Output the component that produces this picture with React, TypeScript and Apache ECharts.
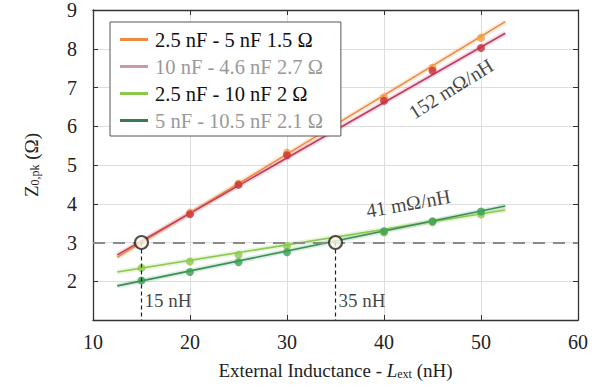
import React, { useEffect, useRef } from "react";
import * as echarts from "echarts";

const xTicks = [10, 20, 30, 40, 50, 60];
const seriesNames = [
  "2.5 nF - 5 nF 1.5 Ω",
  "10 nF - 4.6 nF 2.7 Ω",
  "2.5 nF - 10 nF 2 Ω",
  "5 nF - 10.5 nF 2.1 Ω",
];
const lineColors = ["#ee8a3c", "#c23c62", "#8cc84b", "#3a8f55"];
const pointColors = ["#f29a3e", "#c8303c", "#8cc84b", "#3a9f55"];
const legendTextColors = ["#111", "#999", "#111", "#999"];
const legendIconColors = ["#ee8a3c", "#c99aa3", "#8cc84b", "#3a7a50"];

const xOrange = [20, 25, 30, 40, 45, 50];
const yOrange = [3.77, 4.52, 5.32, 6.74, 7.51, 8.28];
const xRed = [20, 25, 30, 40, 45, 50];
const yRed = [3.73, 4.49, 5.25, 6.66, 7.43, 8.02];
const xLight = [15, 20, 25, 30, 40, 45, 50];
const yLight = [2.34, 2.51, 2.68, 2.91, 3.26, 3.52, 3.72];
const xDark = [15, 20, 25, 30, 40, 45, 50];
const yDark = [2.02, 2.24, 2.49, 2.75, 3.29, 3.55, 3.8];

const fitX = [12.5, 52.5];
const fitOrange = [2.62, 8.7];
const fitRed = [2.68, 8.4];
const fitLight = [2.24, 3.84];
const fitDark = [1.88, 3.94];

const refLevel = 3;
const refPointsX = [15, 35];
const refLabels = ["15 nH", "35 nH"];

const zip = (xs: number[], ys: number[]) => xs.map((x, i) => [x, ys[i]]);

const FONT = "'Liberation Serif', 'Times New Roman', 'DejaVu Serif', serif";

export default function App() {
  const ref = useRef<HTMLDivElement>(null);
  useEffect(() => {
    const chart = echarts.init(ref.current!, null, { renderer: "svg" });
    const pts = [
      zip(xOrange, yOrange),
      zip(xRed, yRed),
      zip(xLight, yLight),
      zip(xDark, yDark),
    ];
    const fits = [fitOrange, fitRed, fitLight, fitDark].map((f) => zip(fitX, f));
    const series: any[] = [];
    fits.forEach((f, i) => {
      series.push({
        type: "line",
        data: f,
        showSymbol: false,
        silent: true,
        lineStyle: { color: lineColors[i], width: 5, opacity: 0.18 },
        z: 1,
      });
    });
    fits.forEach((f, i) => {
      series.push({
        name: seriesNames[i],
        type: "line",
        data: f,
        showSymbol: false,
        lineStyle: { color: lineColors[i], width: 1.6 },
        itemStyle: { color: legendIconColors[i] },
        z: 3,
      });
    });
    pts.forEach((p, i) => {
      series.push({
        type: "scatter",
        data: p,
        symbolSize: 8,
        itemStyle: { color: pointColors[i] },
        z: 4,
      });
    });
    series.push({
      type: "line",
      data: [],
      markLine: {
        silent: true,
        symbol: "none",
        label: { show: false },
        data: [
          [
            { coord: [10, refLevel], lineStyle: { color: "#8a8a8a", type: [12, 8], width: 2 } },
            { coord: [60, refLevel] },
          ],
          ...refPointsX.map((x) => [
            { coord: [x, refLevel], lineStyle: { color: "#222", type: [4, 3], width: 1.2 } },
            { coord: [x, 1] },
          ]),
        ],
      },
      z: 2,
    });
    series.push({
      type: "scatter",
      data: refPointsX.map((x) => [x, refLevel]),
      symbolSize: 13,
      itemStyle: { color: "#fffaea", borderColor: "#222", borderWidth: 2 },
      z: 6,
    });
    series.push({
      type: "scatter",
      data: refPointsX.map((x, i) => ({ value: [x, 1.5], label: { formatter: refLabels[i] } })),
      symbolSize: 0,
      label: {
        show: true,
        position: "right",
        distance: 3,
        fontFamily: FONT,
        fontSize: 19,
        color: "#111",
      },
      z: 6,
    });
    series.push({
      type: "scatter",
      symbolSize: 0,
      data: [
        { value: [46.9, 6.97], label: { formatter: "152 mΩ/nH", rotate: 32 } },
        { value: [42.5, 4.01], label: { formatter: "41 mΩ/nH", rotate: 10 } },
      ],
      label: {
        show: true,
        position: "inside",
        fontFamily: FONT,
        fontSize: 20,
        color: "#111",
      },
      z: 6,
    });

    const axisCommon = {
      axisLine: { show: true, onZero: false, lineStyle: { color: "#333", width: 1.3 } },
      axisTick: { show: true, inside: true, length: 5, lineStyle: { color: "#333" } },
    };

    chart.setOption({
      animation: false,
      backgroundColor: "#fff",
      textStyle: { fontFamily: FONT },
      grid: { left: 93, right: 26, top: 9, bottom: 71 },
      legend: {
        orient: "vertical",
        left: 110,
        top: 22,
        padding: [7, 18, 5, 10],
        itemGap: 6,
        itemWidth: 28,
        itemHeight: 3,
        backgroundColor: "#fff",
        borderColor: "#555",
        borderWidth: 1,
        data: seriesNames.map((n, i) => ({
          name: n,
          icon: "rect",
          itemStyle: { color: legendIconColors[i] },
          textStyle: { color: legendTextColors[i], fontFamily: FONT, fontSize: 20.5, padding: [0, 0, 0, 2] },
        })),
      },
      xAxis: [
        {
          type: "value",
          min: xTicks[0],
          max: xTicks[xTicks.length - 1],
          interval: 10,
          ...axisCommon,
          splitLine: { show: true, lineStyle: { color: "#dedede" } },
          axisLabel: { fontFamily: FONT, fontSize: 20, color: "#222", margin: 12 },
          name: "{a|External Inductance - }{i|L}{s|ext}{a| (nH)}",
          nameLocation: "middle",
          nameGap: 40,
          nameTextStyle: {
            rich: {
              a: { fontFamily: FONT, fontSize: 19, color: "#222" },
              i: { fontFamily: FONT, fontSize: 19, color: "#222", fontStyle: "italic" },
              s: { fontFamily: FONT, fontSize: 12, color: "#222", padding: [8, 0, 0, 0] },
            },
          },
        },
        {
          type: "value",
          position: "top",
          min: 10,
          max: 60,
          interval: 10,
          ...axisCommon,
          splitLine: { show: false },
          axisLabel: { show: false },
        },
      ],
      yAxis: [
        {
          type: "value",
          min: 1,
          max: 9,
          interval: 1,
          ...axisCommon,
          splitLine: { show: true, lineStyle: { color: "#dedede" } },
          axisLabel: {
            fontFamily: FONT,
            fontSize: 20,
            color: "#222",
            margin: 16,
            formatter: (v: number) => (v === 1 ? "" : String(v)),
          },
          name: "{a|Z}{s|0,pk}{a| (Ω)}",
          nameLocation: "middle",
          nameGap: 52,
          nameRotate: 90,
          nameTextStyle: {
            rich: {
              a: { fontFamily: FONT, fontSize: 19, color: "#222" },
              s: { fontFamily: FONT, fontSize: 12, color: "#222", padding: [8, 0, 0, 0] },
            },
          },
        },
        {
          type: "value",
          position: "right",
          min: 1,
          max: 9,
          interval: 1,
          ...axisCommon,
          splitLine: { show: false },
          axisLabel: { show: false },
        },
      ],
      series,
    });
    return () => chart.dispose();
  }, []);
  return <div ref={ref} style={{ width: 604, height: 391, position: "absolute", left: 0, top: 0 }} />;
}
